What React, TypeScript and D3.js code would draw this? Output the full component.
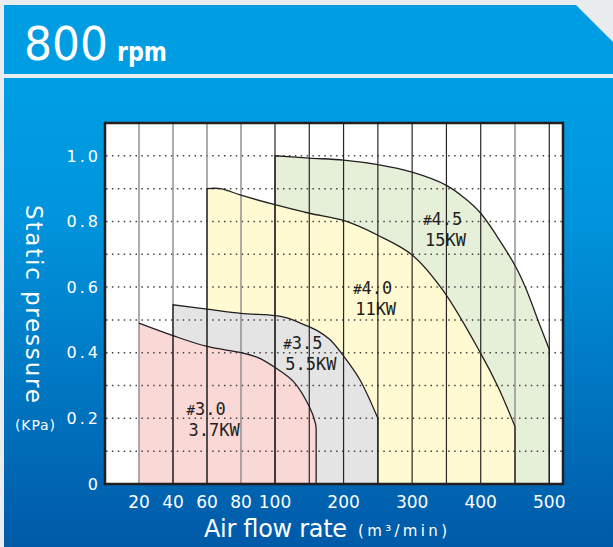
import React from "react";
import * as d3 from "d3";

// ---- data ----
const xTickValues = [20, 40, 60, 80, 100, 200, 300, 400, 500];
const xGridValues = [20, 40, 60, 80, 100, 150, 200, 250, 300, 350, 400, 450, 500];
const yTickValues = [0, 0.2, 0.4, 0.6, 0.8, 1.0];
const yGridValues = [0.1, 0.2, 0.3, 0.4, 0.5, 0.6, 0.7, 0.8, 0.9, 1.0];

const models = ["#3.0", "#3.5", "#4.0", "#4.5"];
const powers = ["3.7KW", "5.5KW", "11KW", "15KW"];

const flow30 = [20, 40, 60, 80, 90, 100, 127, 150, 159, 160];
const press30 = [0.49, 0.452, 0.419, 0.4, 0.385, 0.355, 0.312, 0.236, 0.185, 0.165];

const flow35 = [40, 60, 80, 100, 120, 137, 161, 180, 200, 224, 250];
const press35 = [0.546, 0.533, 0.52, 0.513, 0.505, 0.49, 0.468, 0.44, 0.39, 0.317, 0.2];

const flow40 = [60, 68, 80, 100, 150, 200, 250, 300, 345, 400, 425, 450];
const press40 = [0.9, 0.9, 0.88, 0.851, 0.825, 0.803, 0.758, 0.698, 0.59, 0.398, 0.297, 0.175];

const flow45 = [100, 150, 200, 250, 300, 350, 376, 400, 424, 451, 465, 487, 500];
const press45 = [1.0, 0.993, 0.987, 0.973, 0.95, 0.91, 0.872, 0.825, 0.754, 0.662, 0.6, 0.48, 0.41];

// label anchors in data units (flow, pressure)
const labelFlow = [48, 112, 214, 316];
const labelPress = [0.21, 0.41, 0.58, 0.79];

// ---- styles ----
const fills = ["#f9d8d6", "#e4e4e5", "#fffad2", "#e6f0d9"];
const leftEdgeDark = [false, true, true, true];
const darkGrid = new Set([100, 150, 200, 250, 300, 350, 400, 500]);
const ink = "#231f20";

const W = 613;
const H = 547;

export default function App() {
  const x = d3.scaleLinear().domain([0, 100, 520]).range([105, 275, 563]);
  const y = d3.scaleLinear().domain([0, 1.1]).range([484, 123]);

  const series = [
    { flow: flow30, press: press30 },
    { flow: flow35, press: press35 },
    { flow: flow40, press: press40 },
    { flow: flow45, press: press45 },
  ].map((s) => s.flow.map((f, i) => [f, s.press[i]] as [number, number]));

  const curve = d3.curveCatmullRom.alpha(0.5);
  const area = d3
    .area<[number, number]>()
    .x((d) => x(d[0]))
    .y0(y(0))
    .y1((d) => y(d[1]))
    .curve(curve);
  const line = d3
    .line<[number, number]>()
    .x((d) => x(d[0]))
    .y((d) => y(d[1]))
    .curve(curve);

  const outline = (pts: [number, number][], left: boolean) => {
    const l = line(pts) || "";
    const x0 = x(pts[0][0]);
    const xl = x(pts[pts.length - 1][0]);
    const start = left ? `M${x0},${y(0)}L` + l.slice(1) : l;
    return start + `L${xl},${y(0)}`;
  };

  const order = [3, 2, 1, 0];

  return (
    <svg
      width={W}
      height={H}
      style={{ position: "absolute", left: 0, top: 0, display: "block" }}
      fontFamily="DejaVu Sans"
    >
      <defs>
        <linearGradient id="panelGrad" x1="0" y1="0" x2="0" y2="1">
          <stop offset="0" stopColor="#009fe4" />
          <stop offset="0.3" stopColor="#0094dc" />
          <stop offset="1" stopColor="#005aa8" />
        </linearGradient>
      </defs>
      <rect x={0} y={0} width={W} height={H} fill="#e9edf0" />
      {/* header banner */}
      <polygon points="4,5 576,5 613,42 613,74 4,74" fill="#009de3" />
      <text x={24} y={60} fontSize={47} fill="#fff" textLength={84} lengthAdjust="spacingAndGlyphs">
        800
      </text>
      <text x={117} y={61} fontSize={27} fontWeight="bold" fill="#fff" textLength={50} lengthAdjust="spacingAndGlyphs">
        rpm
      </text>
      {/* main panel */}
      <rect x={4} y={78} width={W - 4} height={H - 78} fill="url(#panelGrad)" />

      {/* plot background */}
      <rect x={105} y={123} width={458} height={361} fill="#fff" />

      {/* region fills */}
      {order.map((i) => (
        <path key={"a" + i} d={area(series[i]) || ""} fill={fills[i]} />
      ))}

      {/* dotted horizontal grid */}
      {yGridValues.map((v) => (
        <line
          key={"h" + v}
          x1={106}
          x2={562}
          y1={y(v)}
          y2={y(v)}
          stroke="#444"
          strokeWidth={1.5}
          strokeDasharray="1.5 4.4"
        />
      ))}

      {/* vertical grid */}
      {xGridValues.map((v) => (
        <line
          key={"v" + v}
          x1={x(v)}
          x2={x(v)}
          y1={123}
          y2={484}
          stroke={darkGrid.has(v) ? "#2a2626" : "#8c8a8a"}
          strokeWidth={darkGrid.has(v) ? 1.2 : 1.4}
        />
      ))}

      {/* region outlines */}
      {order.map((i) => (
        <path
          key={"o" + i}
          d={outline(series[i], leftEdgeDark[i])}
          fill="none"
          stroke={ink}
          strokeWidth={1.3}
        />
      ))}

      {/* model labels */}
      {models.map((m, i) => {
        const lx = x(labelFlow[i]);
        const ly = y(labelPress[i]);
        return (
          <g key={"l" + i} fontFamily="DejaVu Sans Mono" fontSize={17} fill={ink}>
            <text x={lx} y={ly}>
              <tspan fontSize={14}>{m.slice(0, 1)}</tspan>
              {m.slice(1)}
            </text>
            <text x={lx + 2} y={ly + 21}>
              {powers[i]}
            </text>
          </g>
        );
      })}

      {/* border */}
      <rect x={105} y={123} width={458} height={361} fill="none" stroke={ink} strokeWidth={2.5} />

      {/* x tick labels */}
      {xTickValues.map((v) => (
        <text key={"xt" + v} x={x(v)} y={508} fontSize={17} fill="#fff" textAnchor="middle">
          {v}
        </text>
      ))}
      {/* y tick labels */}
      {yTickValues.map((v) => (
        <text
          key={"yt" + v}
          x={101}
          y={y(v)}
          dy="0.36em"
          fontSize={16}
          fill="#fff"
          textAnchor="end"
          letterSpacing={3}
        >
          {v === 0 ? "0" : v.toFixed(1)}
        </text>
      ))}

      {/* axis titles */}
      <text
        transform="translate(26,304) rotate(90)"
        fontSize={23}
        fill="#fff"
        textAnchor="middle"
        textLength={198}
      >
        Static pressure
      </text>
      <text x={15} y={430} fontSize={14} fill="#fff" textLength={40}>
        (KPa)
      </text>
      <text x={204} y={537} fontSize={24} fill="#fff" textLength={143}>
        Air flow rate
      </text>
      <text x={358} y={536} fontSize={15} fill="#fff" textLength={89}>
        (m³/min)
      </text>
    </svg>
  );
}
